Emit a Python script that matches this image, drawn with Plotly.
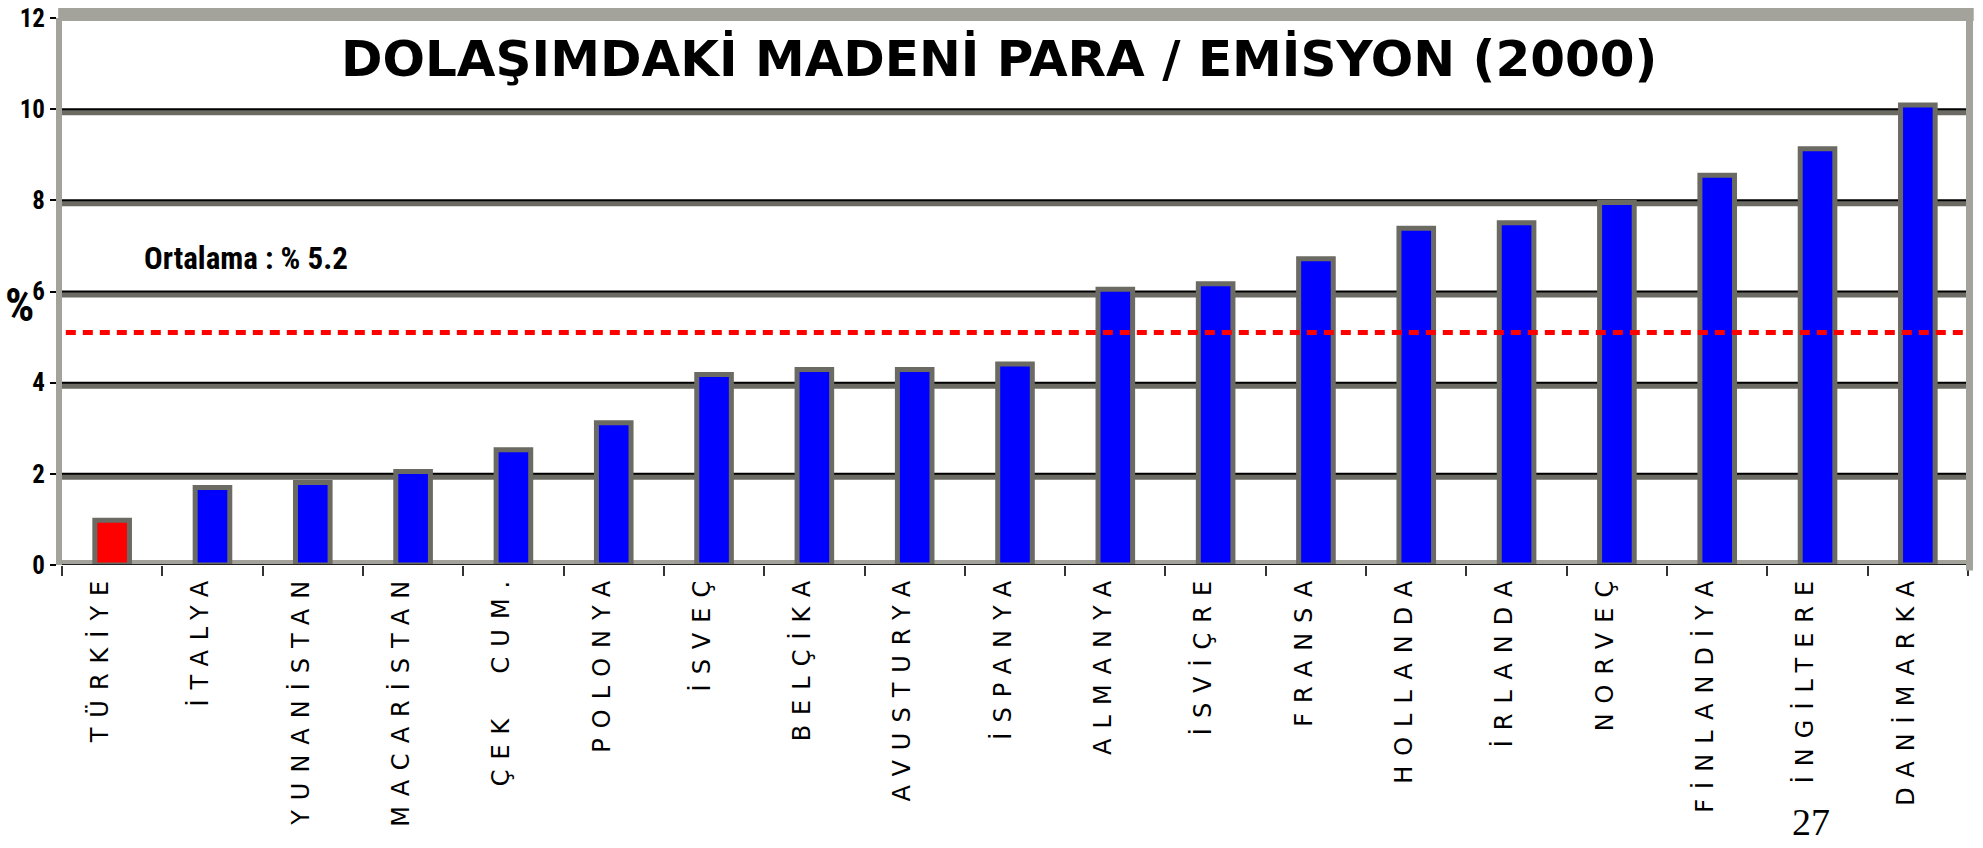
import plotly.graph_objects as go

# ---- data ----
countries = ["TÜRKİYE", "İTALYA", "YUNANİSTAN", "MACARİSTAN", "ÇEK  CUM.", "POLONYA",
             "İSVEÇ", "BELÇİKA", "AVUSTURYA", "İSPANYA", "ALMANYA", "İSVİÇRE",
             "FRANSA", "HOLLANDA", "İRLANDA", "NORVEÇ", "FİNLANDİYA", "İNGİLTERE", "DANİMARKA"]
values = [0.98, 1.70, 1.81, 2.05, 2.53, 3.12, 4.18, 4.29, 4.29, 4.41,
          6.05, 6.17, 6.72, 7.39, 7.51, 7.95, 8.55, 9.13, 10.09]
highlight = "TÜRKİYE"
average_value = 5.1
average_label = "Ortalama : % 5.2"
y_ticks = [0, 2, 4, 6, 8, 10, 12]
title_text = "DOLAŞIMDAKİ MADENİ PARA / EMİSYON (2000)"
page_number = "27"

# ---- styles ----
BLUE = "#0000ff"
RED = "#ff0000"
DARK_GRAY = "#6b6b63"
LIGHT_GRAY = "#a3a39b"
NARROW = "Roboto Condensed, Open Sans Condensed, Liberation Sans Narrow, DejaVu Sans Condensed, sans-serif"
COND = '<span style="font-stretch:condensed">%s</span>'

colors = [RED if c == highlight else BLUE for c in countries]
xticktext = ['<span style="letter-spacing:10px">%s</span>' % c for c in countries]
yticktext = [COND % str(v) for v in y_ticks]

fig = go.Figure()
fig.add_trace(go.Bar(
    x=countries, y=values, width=0.345,
    marker=dict(color=colors, line=dict(color=DARK_GRAY, width=5)),
    hoverinfo="x+y",
))

shapes = []
# horizontal grid bands: dark gray band with black edge line
for v in y_ticks[1:-1]:
    shapes.append(dict(type="rect", xref="paper", x0=0, x1=1, yref="y",
                       ysizemode="pixel", yanchor=v, y0=-6, y1=0,
                       fillcolor=DARK_GRAY, line=dict(width=0), layer="below"))
    shapes.append(dict(type="line", xref="paper", x0=0, x1=1, yref="y", y0=v, y1=v,
                       line=dict(color="black", width=2), layer="below"))
# bottom band at zero
shapes.append(dict(type="rect", xref="paper", x0=0, x1=1, yref="y",
                   ysizemode="pixel", yanchor=0, y0=-5, y1=5,
                   fillcolor=LIGHT_GRAY, line=dict(width=0), layer="below"))
shapes.append(dict(type="line", xref="paper", x0=0, x1=1, yref="y", y0=0, y1=0,
                   line=dict(color="#222222", width=2), layer="above"))
# top frame band
shapes.append(dict(type="rect", xref="paper", x0=-0.002, x1=1.003, yref="paper",
                   ysizemode="pixel", yanchor=1, y0=-3, y1=10,
                   fillcolor=LIGHT_GRAY, line=dict(width=0), layer="above"))
# right frame band
shapes.append(dict(type="rect", xref="paper", xsizemode="pixel", xanchor=1, x0=-2, x1=5,
                   yref="paper", y0=-0.01, y1=1,
                   fillcolor=LIGHT_GRAY, line=dict(width=0), layer="above"))
# average line
shapes.append(dict(type="line", xref="paper", x0=0.002, x1=0.998, yref="y",
                   y0=average_value, y1=average_value,
                   line=dict(color=RED, width=5, dash="10px,7px"), layer="above"))

annotations = [
    dict(text="<b>%s</b>" % title_text, xref="paper", yref="paper", x=0.4916, y=0.925,
         showarrow=False, xanchor="center", yanchor="middle",
         font=dict(family="DejaVu Sans", size=50, color="black")),
    dict(text=COND % average_label, xref="paper", yref="paper", x=0.0966, y=0.561,
         showarrow=False, xanchor="center", yanchor="middle",
         font=dict(family=NARROW, size=31, color="black", weight="bold")),
    dict(text=COND % "%", xref="paper", yref="paper", x=0, y=0.475, xshift=-43,
         showarrow=False, xanchor="center", yanchor="middle",
         font=dict(family=NARROW, size=46, color="black", weight="bold")),
    dict(text=page_number, xref="paper", yref="paper", x=0.9176, y=-0.47,
         showarrow=False, xanchor="center", yanchor="middle",
         font=dict(family="Liberation Serif, serif", size=38, color="black")),
]

fig.update_layout(
    width=1983, height=848,
    margin=dict(l=62, r=15, t=18, b=283, pad=0, autoexpand=False),
    paper_bgcolor="white", plot_bgcolor="white",
    showlegend=False,
    shapes=shapes, annotations=annotations,
    xaxis=dict(
        type="category", tickmode="array", tickvals=countries, ticktext=xticktext,
        tickangle=-90, tickson="boundaries", ticks="outside", ticklen=10,
        tickcolor="#333333", tickwidth=1.5, ticklabelshift=-12, automargin=False,
        tickfont=dict(family="DejaVu Sans, sans-serif", size=24, color="black"),
        showgrid=False, showline=False, zeroline=False, fixedrange=True,
    ),
    yaxis=dict(
        range=[0, 12], tickmode="array", tickvals=y_ticks, ticktext=yticktext,
        automargin=False,
        ticks="outside", ticklen=6, tickcolor="black", tickwidth=1.5,
        tickfont=dict(family=NARROW, size=25, color="black", weight="bold"),
        showgrid=False, zeroline=False, showline=True,
        linecolor=LIGHT_GRAY, linewidth=6, fixedrange=True,
    ),
)

fig.write_html("out.html", config={"displayModeBar": False},
               post_script="document.body.style.margin='0';document.body.style.overflow='hidden';")
